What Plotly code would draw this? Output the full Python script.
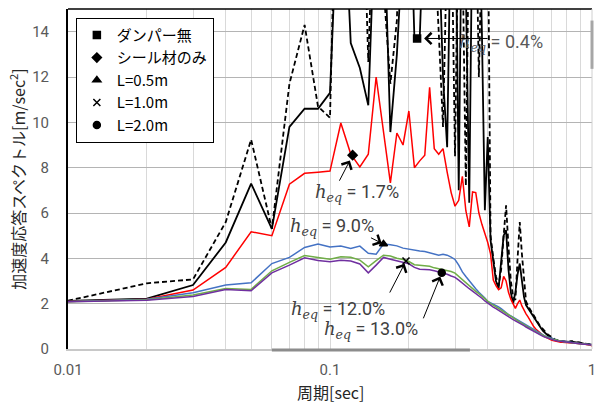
import numpy as np
import plotly.graph_objects as go

# Natural period grid [sec]
PERIODS = [k / 100 for k in range(1, 101)]

# Acceleration response spectra [m/sec^2]
NO_DAMPER = [
    2.12, 2.22, 2.82, 4.70, 7.30, 5.30, 9.80, 10.60, 10.60, 11.30,
    23.0, 13.50, 12.40, 10.75, 20.5, 19.7, 9.57, 13.0, 18.0, 22.0,
    13.70, 13.70, 20.0, 25.0, 20.0, 18.0, 12.0, 8.90, 20.0, 22.0,
    7.00, 22.0, 16.0, 6.45, 20.0, 15.0, 20.0, 14.0, 6.12, 9.35,
    4.80, 4.00, 3.00, 2.67, 3.80, 5.00, 5.24, 3.50, 2.50, 2.00,
    2.50, 3.30, 3.77, 3.00, 2.30, 1.94, 1.80, 1.65, 1.50, 1.35,
    1.25, 1.12, 1.00, 0.90, 0.80, 0.72, 0.64, 0.58, 0.52, 0.47,
    0.43, 0.40, 0.38, 0.36, 0.35, 0.34, 0.33, 0.32, 0.31, 0.30,
    0.30, 0.31, 0.33, 0.32, 0.30, 0.28, 0.27, 0.28, 0.29, 0.27,
    0.25, 0.24, 0.24, 0.23, 0.22, 0.22, 0.21, 0.20, 0.20, 0.19,
]
NO_DAMPER_ALT = [
    2.13, 2.90, 3.07, 5.60, 9.24, 5.30, 11.70, 14.30, 10.70, 10.20,
    30.0, 28.0, 25.0, 12.66, 23.0, 16.0, 11.70, 14.5, 25.0, 25.0,
    20.0, 22.0, 25.0, 20.0, 18.0, 14.0, 9.80, 18.0, 20.0, 8.50,
    20.0, 18.0, 7.20, 20.0, 16.0, 20.0, 12.0, 18.0, 16.0, 20.0,
    5.00, 4.00, 3.20, 2.80, 3.50, 5.00, 6.34, 4.50, 3.00, 2.30,
    2.16, 4.00, 5.60, 4.20, 3.00, 2.10, 1.90, 1.75, 1.60, 1.45,
    1.30, 1.18, 1.06, 0.96, 0.86, 0.78, 0.70, 0.63, 0.57, 0.52,
    0.47, 0.43, 0.40, 0.38, 0.36, 0.35, 0.34, 0.33, 0.32, 0.31,
    0.31, 0.33, 0.35, 0.34, 0.31, 0.29, 0.28, 0.29, 0.30, 0.28,
    0.26, 0.25, 0.24, 0.24, 0.23, 0.22, 0.22, 0.21, 0.20, 0.20,
]
SEAL_ONLY = [
    2.10, 2.19, 2.60, 3.60, 5.17, 5.00, 7.27, 7.75, 7.80, 7.85,
    9.97, 8.60, 8.03, 8.59, 12.00, 9.60, 7.33, 9.53, 9.00, 10.50,
    8.00, 8.30, 8.55, 11.55, 8.84, 8.59, 8.84, 7.80, 6.90, 6.30,
    6.56, 7.62, 6.10, 5.39, 6.93, 6.90, 6.00, 5.50, 5.10, 4.70,
    4.20, 3.04, 2.80, 2.62, 2.70, 3.20, 3.00, 2.50, 2.20, 1.95,
    1.79, 2.00, 2.16, 1.90, 1.70, 1.55, 1.42, 1.25, 1.10, 0.98,
    0.88, 0.80, 0.72, 0.65, 0.60, 0.55, 0.50, 0.46, 0.42, 0.39,
    0.37, 0.35, 0.33, 0.32, 0.31, 0.30, 0.30, 0.29, 0.29, 0.28,
    0.28, 0.27, 0.27, 0.26, 0.26, 0.25, 0.25, 0.24, 0.24, 0.23,
    0.23, 0.22, 0.22, 0.21, 0.21, 0.20, 0.20, 0.19, 0.17, 0.12,
]
L_05 = [
    2.10, 2.20, 2.48, 2.82, 2.92, 3.77, 4.04, 4.48, 4.63, 4.50,
    4.54, 4.43, 4.54, 4.22, 4.18, 4.63, 4.60, 4.55, 4.45, 4.40,
    4.36, 4.32, 4.30, 4.25, 4.18, 4.14, 4.18, 4.14, 4.05, 3.95,
    3.70, 3.40, 3.20, 3.00, 2.82, 2.66, 2.50, 2.38, 2.25, 2.10,
    2.04, 2.00, 1.94, 1.86, 1.78, 1.68, 1.58, 1.52, 1.46, 1.40,
    1.34, 1.28, 1.22, 1.16, 1.10, 1.04, 0.98, 0.94, 0.89, 0.84,
    0.80, 0.75, 0.70, 0.66, 0.62, 0.58, 0.55, 0.52, 0.49, 0.46,
    0.44, 0.42, 0.40, 0.38, 0.36, 0.35, 0.34, 0.33, 0.32, 0.31,
    0.30, 0.29, 0.28, 0.27, 0.27, 0.26, 0.25, 0.25, 0.24, 0.24,
    0.23, 0.23, 0.22, 0.22, 0.21, 0.21, 0.20, 0.20, 0.19, 0.19,
]
L_10 = [
    2.08, 2.17, 2.38, 2.67, 2.63, 3.45, 3.82, 4.12, 4.04, 3.96,
    4.07, 4.05, 3.92, 3.63, 3.90, 4.14, 4.10, 4.00, 3.95, 3.86,
    3.72, 3.70, 3.70, 3.65, 3.58, 3.54, 3.50, 3.48, 3.42, 3.35,
    3.20, 3.05, 2.92, 2.78, 2.65, 2.54, 2.44, 2.32, 2.21, 2.10,
    2.00, 1.94, 1.86, 1.79, 1.72, 1.64, 1.57, 1.50, 1.43, 1.37,
    1.31, 1.25, 1.19, 1.13, 1.07, 1.01, 0.96, 0.91, 0.86, 0.81,
    0.76, 0.71, 0.67, 0.63, 0.59, 0.56, 0.53, 0.50, 0.47, 0.44,
    0.42, 0.40, 0.38, 0.36, 0.35, 0.34, 0.33, 0.32, 0.31, 0.30,
    0.29, 0.28, 0.27, 0.27, 0.26, 0.25, 0.25, 0.24, 0.24, 0.23,
    0.23, 0.22, 0.22, 0.21, 0.21, 0.20, 0.20, 0.19, 0.19, 0.18,
]
L_20 = [
    2.08, 2.15, 2.32, 2.62, 2.57, 3.36, 3.70, 4.02, 3.90, 3.85,
    3.92, 3.88, 3.75, 3.36, 3.70, 4.04, 3.96, 3.88, 3.82, 3.76,
    3.60, 3.52, 3.51, 3.50, 3.45, 3.40, 3.36, 3.30, 3.22, 3.16,
    3.04, 2.90, 2.78, 2.66, 2.55, 2.45, 2.35, 2.24, 2.12, 2.02,
    1.92, 1.85, 1.78, 1.70, 1.63, 1.57, 1.50, 1.43, 1.36, 1.30,
    1.25, 1.20, 1.15, 1.09, 1.03, 0.97, 0.92, 0.86, 0.81, 0.76,
    0.72, 0.68, 0.64, 0.60, 0.56, 0.53, 0.50, 0.47, 0.44, 0.42,
    0.40, 0.38, 0.36, 0.35, 0.34, 0.33, 0.32, 0.31, 0.30, 0.29,
    0.28, 0.27, 0.27, 0.26, 0.25, 0.25, 0.24, 0.24, 0.23, 0.23,
    0.22, 0.22, 0.21, 0.21, 0.20, 0.20, 0.19, 0.19, 0.18, 0.18,
]

# Highlighted points with their equivalent damping ratio
MARK_NAMES = ["ダンパー無", "シール材のみ", "L=0.5m", "L=1.0m", "L=2.0m"]
MARK_SYMBOLS = ["square", "diamond", "triangle-up", "x-thin", "circle"]
MARK_T = [0.215, 0.122, 0.160, 0.195, 0.267]
MARK_V = [13.70, 8.55, 4.63, 3.88, 3.36]
HEQ_LABELS = ["0.4%", "1.7%", "9.0%", "12.0%", "13.0%"]

# x tick grid: decades labelled, 2..9 multiples as grid only
XTICKS = [m * 10 ** e for e in (-2, -1) for m in range(1, 10)] + [1]
XTICK_TEXT = ["0.01" if v == 0.01 else "0.1" if v == 0.1 else "1" if v == 1 else "" for v in XTICKS]
YTICKS = [0, 2, 4, 6, 8, 10, 12, 14]

fig = go.Figure()

curves = [
    (NO_DAMPER, "#000000", 1.8, "solid"),
    (NO_DAMPER_ALT, "#000000", 1.8, "5px,3px"),
    (SEAL_ONLY, "#ff0000", 1.5, "solid"),
    (L_05, "#4472c4", 1.5, "solid"),
    (L_10, "#70ad47", 1.5, "solid"),
    (L_20, "#7030a0", 1.5, "solid"),
]
for vals, color, width, dash in curves:
    fig.add_trace(go.Scatter(
        x=PERIODS, y=vals, mode="lines", showlegend=False, hoverinfo="skip",
        line=dict(color=color, width=width, dash=dash),
    ))

for name, sym, t, v in zip(MARK_NAMES, MARK_SYMBOLS, MARK_T, MARK_V):
    fig.add_trace(go.Scatter(
        x=[t], y=[v], mode="markers", name=name,
        marker=dict(symbol=sym, color="#000000", size=7,
                    line=dict(color="#000000", width=1.5)),
    ))

heq = "<span style='font-family:DejaVu Serif'><i>h</i><sub><i>eq</i></sub></span> = "

# label centres (log10 period, value) and arrow tails in pixels from the marker
LABEL_POS = [(-0.347, 13.48), (-0.897, 6.87), (-0.992, 5.37), (-0.970, 1.72), (-0.844, 0.84)]
ARROW_TAIL = [(72, 0), (-14, 27), (-14, -7), (-17, 33), (-19, 47)]
ARROW_STANDOFF = [7, 6, 2, 3, 4]

annotations = []
for i, lab in enumerate(HEQ_LABELS):
    lx, ly = LABEL_POS[i]
    annotations.append(dict(
        x=lx, y=ly, xref="x", yref="y", text=heq + lab, showarrow=False,
        xanchor="center", yanchor="middle",
        font=dict(family="Roboto", size=18, color="#595959" if i == 0 else "#404040"),
    ))
    ax, ay = ARROW_TAIL[i]
    annotations.append(dict(
        x=np.log10(MARK_T[i]), y=MARK_V[i], xref="x", yref="y", text="",
        showarrow=True, ax=ax, ay=ay, axref="pixel", ayref="pixel",
        arrowhead=4, arrowsize=2.2, arrowwidth=1.0, arrowcolor="#000000",
        standoff=ARROW_STANDOFF[i],
    ))

# x-axis title placed under the tick labels
annotations.append(dict(
    x=0.5, y=-0.125, xref="paper", yref="paper", text="周期[sec]",
    showarrow=False, xanchor="center", yanchor="middle",
    font=dict(family="Noto Sans CJK JP", size=16, color="#262626"),
))

shapes = [
    # black frame on top
    dict(type="line", xref="paper", yref="paper", x0=0, x1=1, y0=1, y1=1,
         line=dict(color="#000000", width=1.5)),
    # light frame on the right
    dict(type="line", xref="paper", yref="paper", x0=1, x1=1, y0=0, y1=1,
         line=dict(color="#d0d0d0", width=1)),
    dict(type="line", xref="paper", yref="paper", x0=1, x1=1, y0=0.824, y1=0.966,
         line=dict(color="#a6a6a6", width=3)),
    # darker strip along the bottom axis
    dict(type="line", xref="paper", yref="paper", x0=0.389, x1=0.767, y0=-0.003, y1=-0.003,
         line=dict(color="#8c8c8c", width=3)),
]

fig.update_layout(
    width=598, height=404,
    margin=dict(l=68, r=6, t=9, b=55),
    paper_bgcolor="white", plot_bgcolor="white",
    font=dict(family="Noto Sans CJK JP", color="#262626"),
    xaxis=dict(
        type="log", range=[-2, 0], tickvals=XTICKS, ticktext=XTICK_TEXT,
        showgrid=True, gridcolor="#d9d9d9", gridwidth=1,
        showline=True, linecolor="#c8c8c8", linewidth=2,
        ticks="", ticklabelstandoff=6,
        tickfont=dict(family="Roboto", size=15, color="#595959"),
        zeroline=False, automargin=False,
    ),
    yaxis=dict(
        range=[0, 15], tickvals=YTICKS,
        showgrid=True, gridcolor="#b4b4b4", gridwidth=1,
        showline=True, linecolor="#000000", linewidth=2,
        ticks="", ticklabelstandoff=14,
        tickfont=dict(family="Roboto", size=15, color="#595959"),
        title=dict(text="加速度応答スペクトル[m/sec<sup>2</sup>]", standoff=3,
                   font=dict(family="Noto Sans CJK JP", size=16, color="#262626")),
        zeroline=False, automargin=False,
    ),
    legend=dict(
        x=0.015, y=0.974, xanchor="left", yanchor="top",
        bgcolor="white", bordercolor="#000000", borderwidth=1,
        font=dict(family="Noto Sans CJK JP", size=15, color="#000000"),
        itemwidth=30, tracegroupgap=0,
    ),
    annotations=annotations,
    shapes=shapes,
)

fig.write_html("out.html")
